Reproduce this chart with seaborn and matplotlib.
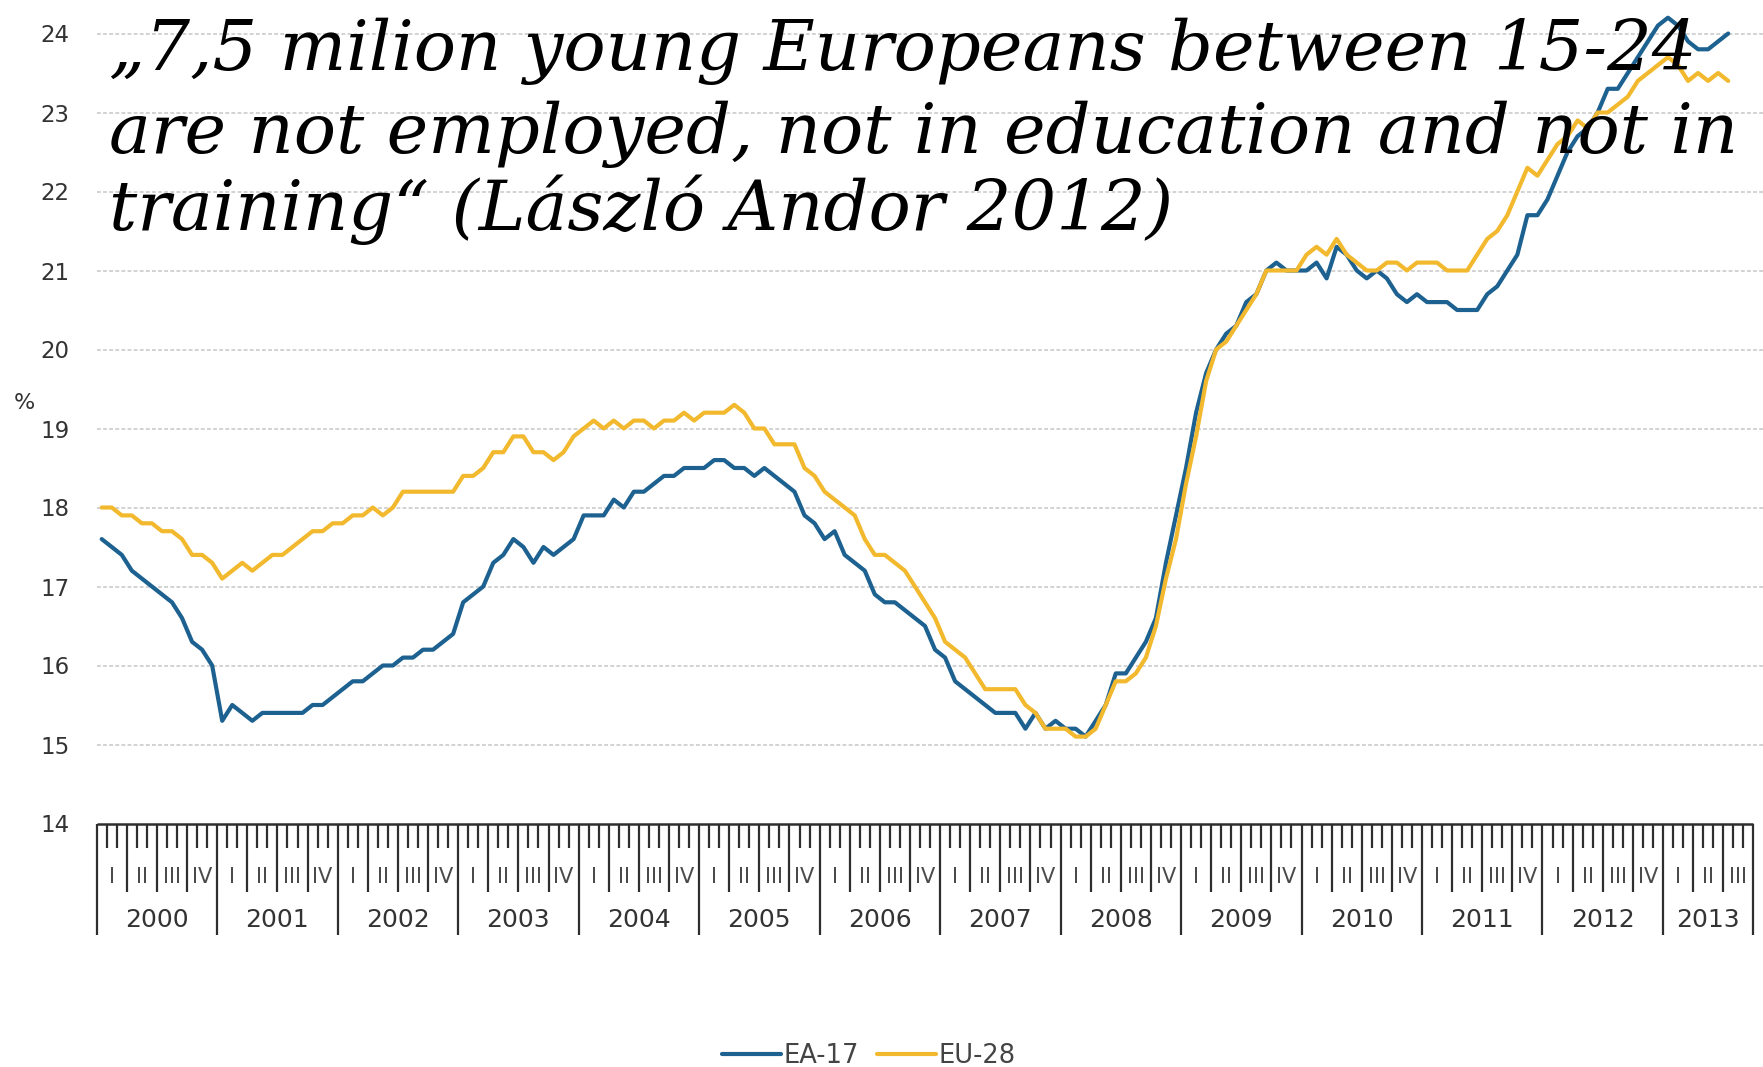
import numpy as np
import pandas as pd
import matplotlib
matplotlib.use("Agg")
import matplotlib.pyplot as plt
import seaborn as sns

# ---------------- data ----------------
years = list(range(2000, 2014))
quarters = ["I", "II", "III", "IV"]
series_names = ["EA-17", "EU-28"]
axis_months = 165          # ruler runs Jan 2000 - Sep 2013
y_ticks = [14, 15, 16, 17, 18, 19, 20, 21, 22, 23, 24]

ea17 = [
    17.6, 17.5, 17.4, 17.2, 17.1, 17.0, 16.9, 16.8, 16.6, 16.3, 16.2, 16.0,   # 2000
    15.3, 15.5, 15.4, 15.3, 15.4, 15.4, 15.4, 15.4, 15.4, 15.5, 15.5, 15.6,   # 2001
    15.7, 15.8, 15.8, 15.9, 16.0, 16.0, 16.1, 16.1, 16.2, 16.2, 16.3, 16.4,   # 2002
    16.8, 16.9, 17.0, 17.3, 17.4, 17.6, 17.5, 17.3, 17.5, 17.4, 17.5, 17.6,   # 2003
    17.9, 17.9, 17.9, 18.1, 18.0, 18.2, 18.2, 18.3, 18.4, 18.4, 18.5, 18.5,   # 2004
    18.5, 18.6, 18.6, 18.5, 18.5, 18.4, 18.5, 18.4, 18.3, 18.2, 17.9, 17.8,   # 2005
    17.6, 17.7, 17.4, 17.3, 17.2, 16.9, 16.8, 16.8, 16.7, 16.6, 16.5, 16.2,   # 2006
    16.1, 15.8, 15.7, 15.6, 15.5, 15.4, 15.4, 15.4, 15.2, 15.4, 15.2, 15.3,   # 2007
    15.2, 15.2, 15.1, 15.3, 15.5, 15.9, 15.9, 16.1, 16.3, 16.6, 17.3, 17.9,   # 2008
    18.5, 19.2, 19.7, 20.0, 20.2, 20.3, 20.6, 20.7, 21.0, 21.1, 21.0, 21.0,   # 2009
    21.0, 21.1, 20.9, 21.3, 21.2, 21.0, 20.9, 21.0, 20.9, 20.7, 20.6, 20.7,   # 2010
    20.6, 20.6, 20.6, 20.5, 20.5, 20.5, 20.7, 20.8, 21.0, 21.2, 21.7, 21.7,   # 2011
    21.9, 22.2, 22.5, 22.7, 22.8, 23.0, 23.3, 23.3, 23.5, 23.7, 23.9, 24.1,   # 2012
    24.2, 24.1, 23.9, 23.8, 23.8, 23.9, 24.0,                                 # 2013
]
eu28 = [
    18.0, 18.0, 17.9, 17.9, 17.8, 17.8, 17.7, 17.7, 17.6, 17.4, 17.4, 17.3,   # 2000
    17.1, 17.2, 17.3, 17.2, 17.3, 17.4, 17.4, 17.5, 17.6, 17.7, 17.7, 17.8,   # 2001
    17.8, 17.9, 17.9, 18.0, 17.9, 18.0, 18.2, 18.2, 18.2, 18.2, 18.2, 18.2,   # 2002
    18.4, 18.4, 18.5, 18.7, 18.7, 18.9, 18.9, 18.7, 18.7, 18.6, 18.7, 18.9,   # 2003
    19.0, 19.1, 19.0, 19.1, 19.0, 19.1, 19.1, 19.0, 19.1, 19.1, 19.2, 19.1,   # 2004
    19.2, 19.2, 19.2, 19.3, 19.2, 19.0, 19.0, 18.8, 18.8, 18.8, 18.5, 18.4,   # 2005
    18.2, 18.1, 18.0, 17.9, 17.6, 17.4, 17.4, 17.3, 17.2, 17.0, 16.8, 16.6,   # 2006
    16.3, 16.2, 16.1, 15.9, 15.7, 15.7, 15.7, 15.7, 15.5, 15.4, 15.2, 15.2,   # 2007
    15.2, 15.1, 15.1, 15.2, 15.5, 15.8, 15.8, 15.9, 16.1, 16.5, 17.1, 17.6,   # 2008
    18.3, 18.9, 19.6, 20.0, 20.1, 20.3, 20.5, 20.7, 21.0, 21.0, 21.0, 21.0,   # 2009
    21.2, 21.3, 21.2, 21.4, 21.2, 21.1, 21.0, 21.0, 21.1, 21.1, 21.0, 21.1,   # 2010
    21.1, 21.1, 21.0, 21.0, 21.0, 21.2, 21.4, 21.5, 21.7, 22.0, 22.3, 22.2,   # 2011
    22.4, 22.6, 22.7, 22.9, 22.8, 23.0, 23.0, 23.1, 23.2, 23.4, 23.5, 23.6,   # 2012
    23.7, 23.6, 23.4, 23.5, 23.4, 23.5, 23.4,                                 # 2013
]

title_lines = [
    "\u201e7,5 milion young Europeans between 15-24",
    "are not employed, not in education and not in",
    "training\u201c (L\u00e1szl\u00f3 Andor 2012)",
]

# ---------------- style ----------------
sns.set_style("white")
plt.rcParams["font.family"] = ["DejaVu Sans"]

BLUE = "#1d6190"
YELLOW = "#f2b92e"
TXT = "#333333"
RULER = "#2e2e2e"

W, H = 1763, 1067
fig = plt.figure(figsize=(W / 100, H / 100), dpi=100)
fig.patch.set_facecolor("white")

x0 = 96.7           # left edge of plot (px)
pitch = 10.04       # px per month
y14 = 823.5         # pixel row of value 14
unit = 79.0         # px per percentage point

ax = fig.add_axes([x0 / W, (H - y14) / H, (W - x0) / W, y14 / H])
ax.set_xlim(0, (W - x0) / pitch)
ax.set_ylim(14, 14 + y14 / unit)

n = len(ea17)
df = pd.DataFrame({
    "month": np.concatenate([np.arange(n) + 0.5, np.arange(len(eu28)) + 0.5]),
    "value": ea17 + eu28,
    "series": [series_names[0]] * n + [series_names[1]] * len(eu28),
})
sns.lineplot(data=df, x="month", y="value", hue="series", hue_order=series_names,
             palette={series_names[0]: BLUE, series_names[1]: YELLOW},
             estimator=None, sort=False, linewidth=3.0, legend=False, ax=ax)

for s in ax.spines.values():
    s.set_visible(False)
ax.set_xticks([])
ax.set_xlabel("")
ax.set_ylabel("")
ax.set_yticks(y_ticks)
ax.set_yticklabels([str(t) for t in y_ticks])
ax.tick_params(axis="y", length=0, pad=19.5, labelsize=16.5, labelcolor=TXT)
ax.yaxis.grid(True, linestyle=(0, (2.5, 1.5)), color="#c6c6c6", linewidth=1.1)
ax.get_ygridlines()[0].set_visible(False)

fig.text(24 / W, 1 - 403 / H, "%", ha="center", va="center", fontsize=16, color=TXT)

# ---------------- time ruler ----------------
ruler_h = 940 - y14
rax = fig.add_axes([x0 / W, (H - 940) / H, (W - x0) / W, ruler_h / H])
rax.set_xlim(0, (W - x0) / pitch)
rax.set_ylim(ruler_h, 0)
rax.axis("off")

rax.hlines(0, 0, axis_months, color=RULER, linewidth=1.8, clip_on=False)
ks = np.arange(axis_months + 1)
lengths = np.where((ks % 12 == 0) | (ks == axis_months), 111.5,
                   np.where(ks % 3 == 0, 68.5, 24.5))
rax.vlines(ks, 0, lengths, colors=RULER, linewidth=1.6, clip_on=False)

n_quarters = axis_months // 3
for q in range(n_quarters):
    rax.text(q * 3 + 1.5, 53.5, quarters[q % 4], ha="center", va="center",
             fontsize=15, color="#4a4a4a")
for i, yr in enumerate(years):
    a = i * 12
    b = min(a + 12, axis_months)
    rax.text((a + b) / 2, 96.5, str(yr), ha="center", va="center",
             fontsize=18, color=TXT)

# ---------------- legend ----------------
fig.legend(handles=ax.lines[:2], labels=series_names, loc="center",
           bbox_to_anchor=(869 / W, 1 - 1056 / H), ncol=2, frameon=False,
           fontsize=18.5, handlelength=2.3, handletextpad=0.1, columnspacing=0.7,
           labelcolor="#444444", borderpad=0)

# ---------------- quotation ----------------
renderer = fig.canvas.get_renderer()
probe = fig.text(0, 0, title_lines[1], fontsize=50, family="DejaVu Serif", style="italic")
wpx = probe.get_window_extent(renderer).width
probe.remove()
fs = 50 * 1630 / wpx
baselines = [70, 153, 230]
for line, b in zip(title_lines, baselines):
    fig.text(109 / W, 1 - b / H, line, fontsize=fs, family="DejaVu Serif",
             style="italic", color="black", ha="left", va="baseline")

fig.savefig("out.png", dpi=100, facecolor="white")
